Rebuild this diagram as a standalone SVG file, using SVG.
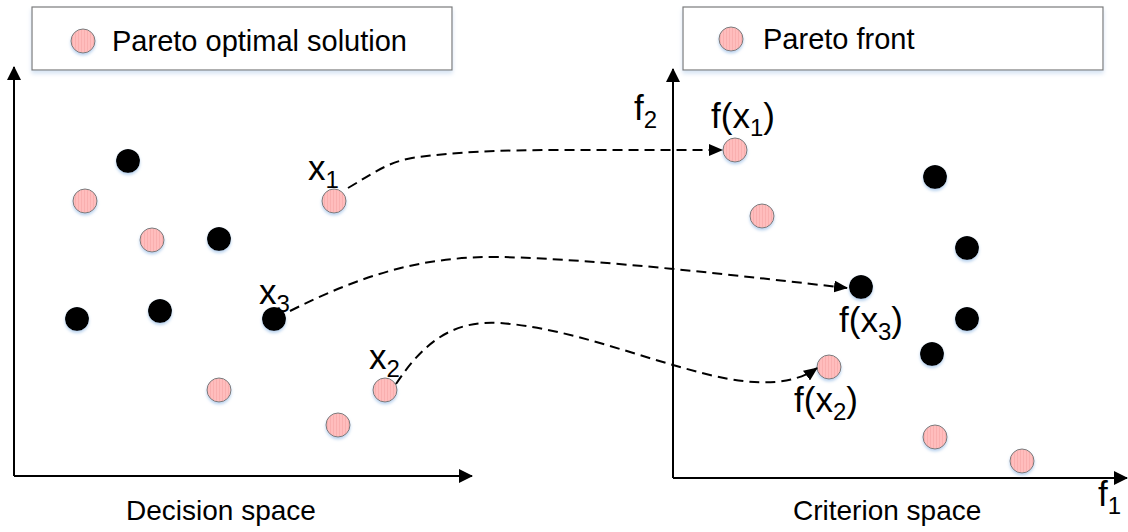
<svg xmlns="http://www.w3.org/2000/svg" width="1128" height="532" viewBox="0 0 1128 532">
<defs>
<style>
.t{font-family:"Liberation Sans",Arial,sans-serif;fill:#000}
.lg{font-size:29px}
.cap{font-size:28px}
.lb{font-size:35px}
.sub{font-size:24px}
.ax{stroke:#000;stroke-width:2;fill:none}
.cn{stroke:#000;stroke-width:2;fill:none;stroke-dasharray:10 6}
.pk{fill:url(#stripes);stroke:#7a7a7a;stroke-width:1;filter:url(#sh)}
.bk{fill:#000;filter:url(#sh)}
.box{fill:#fff;stroke:#7a7a7a;stroke-width:1.2;filter:url(#bsh)}
</style>
<pattern id="stripes" patternUnits="userSpaceOnUse" width="3" height="4">
<rect width="3" height="4" fill="#ffbdbd"/>
<rect width="1" height="4" fill="#f9afaf"/>
</pattern>
<filter id="sh" x="-30%" y="-30%" width="160%" height="170%">
<feGaussianBlur in="SourceAlpha" stdDeviation="1.5"/>
<feOffset dy="2" result="b"/>
<feFlood flood-color="#b9d2ee"/>
<feComposite in2="b" operator="in"/>
<feMerge><feMergeNode/><feMergeNode in="SourceGraphic"/></feMerge>
</filter>
<filter id="bsh" x="-5%" y="-20%" width="110%" height="150%">
<feGaussianBlur in="SourceAlpha" stdDeviation="2"/>
<feOffset dy="3" result="b"/>
<feFlood flood-color="#d5e3f3"/>
<feComposite in2="b" operator="in"/>
<feMerge><feMergeNode/><feMergeNode in="SourceGraphic"/></feMerge>
</filter>
<marker id="ah" markerUnits="userSpaceOnUse" markerWidth="14" markerHeight="12" refX="13" refY="6" orient="auto">
<path d="M0,0 L14,6 L0,12 Z" fill="#000"/>
</marker>
<marker id="axh" markerUnits="userSpaceOnUse" markerWidth="14" markerHeight="14" refX="13" refY="7" orient="auto">
<path d="M0,0 L14,7 L0,14 Z" fill="#000"/>
</marker>
</defs>
<rect width="1128" height="532" fill="#fff"/>

<g id="legend-left">
<rect class="box" x="32" y="7" width="420" height="63"/>
<circle class="pk" cx="83" cy="41" r="12"/>
<text class="t lg" x="112" y="51">Pareto optimal solution</text>
</g>
<g id="legend-right">
<rect class="box" x="683" y="7" width="420" height="63"/>
<circle class="pk" cx="731" cy="39" r="12"/>
<text class="t lg" x="763" y="49">Pareto front</text>
</g>

<g id="axes">
<path class="ax" d="M14,476 L14,67" marker-end="url(#axh)"/>
<path class="ax" d="M14,476 L472,476" marker-end="url(#axh)"/>
<path class="ax" d="M673,478 L673,69" marker-end="url(#axh)"/>
<path class="ax" d="M673,478 L1127,478" marker-end="url(#axh)"/>
<text class="t lb" x="634" y="120">f<tspan class="sub" dy="8">2</tspan></text>
<text class="t lb" x="1098" y="506">f<tspan class="sub" dy="8">1</tspan></text>
<text class="t cap" x="126" y="520">Decision space</text>
<text class="t cap" x="793" y="520">Criterion space</text>
</g>

<g id="decision-points">
<circle class="bk" cx="128" cy="161" r="12"/>
<circle class="bk" cx="219" cy="239" r="12"/>
<circle class="bk" cx="77" cy="319" r="12"/>
<circle class="bk" cx="160" cy="311" r="12"/>
<circle class="pk" cx="85" cy="201" r="12"/>
<circle class="pk" cx="152" cy="240" r="12"/>
<circle class="pk" cx="219" cy="390" r="12"/>
<circle class="pk" cx="338" cy="425" r="12"/>
</g>
<g id="x1">
<circle class="pk" cx="334" cy="201" r="12"/>
<text class="t lb" x="308" y="180">x<tspan class="sub" dy="8">1</tspan></text>
</g>
<g id="x3">
<circle class="bk" cx="274" cy="319" r="12"/>
<text class="t lb" x="259" y="304">x<tspan class="sub" dy="8">3</tspan></text>
</g>
<g id="x2">
<circle class="pk" cx="385" cy="390" r="12"/>
<text class="t lb" x="369" y="369">x<tspan class="sub" dy="8">2</tspan></text>
</g>

<g id="criterion-points">
<circle class="pk" cx="762" cy="216" r="12"/>
<circle class="pk" cx="935" cy="437" r="12"/>
<circle class="pk" cx="1022" cy="461" r="12"/>
<circle class="bk" cx="935" cy="177" r="12"/>
<circle class="bk" cx="967" cy="248" r="12"/>
<circle class="bk" cx="967" cy="319" r="12"/>
<circle class="bk" cx="932" cy="354" r="12"/>
</g>
<g id="fx1">
<circle class="pk" cx="735" cy="150" r="12"/>
<text class="t lb" x="711" y="128">f(x<tspan class="sub" dy="8">1</tspan><tspan dy="-8">)</tspan></text>
</g>
<g id="fx3">
<circle class="bk" cx="861" cy="287" r="12"/>
<text class="t lb" x="839" y="332">f(x<tspan class="sub" dy="8">3</tspan><tspan dy="-8">)</tspan></text>
</g>
<g id="fx2">
<circle class="pk" cx="829" cy="367" r="12"/>
<text class="t lb" x="794" y="412">f(x<tspan class="sub" dy="8">2</tspan><tspan dy="-8">)</tspan></text>
</g>

<g id="connectors">
<path class="cn" d="M348,188 C372,174 388,162 412,158 C452,152 500,150 560,150 L722,150" marker-end="url(#ah)"/>
<path class="cn" d="M290,311 C360,276 420,256 500,257 C600,259 750,277 847,288" marker-end="url(#ah)"/>
<path class="cn" d="M396,384 C425,340 455,320 500,323 C570,328 640,358 710,375 C760,387 795,384 817,368" marker-end="url(#ah)"/>
</g>
</svg>
